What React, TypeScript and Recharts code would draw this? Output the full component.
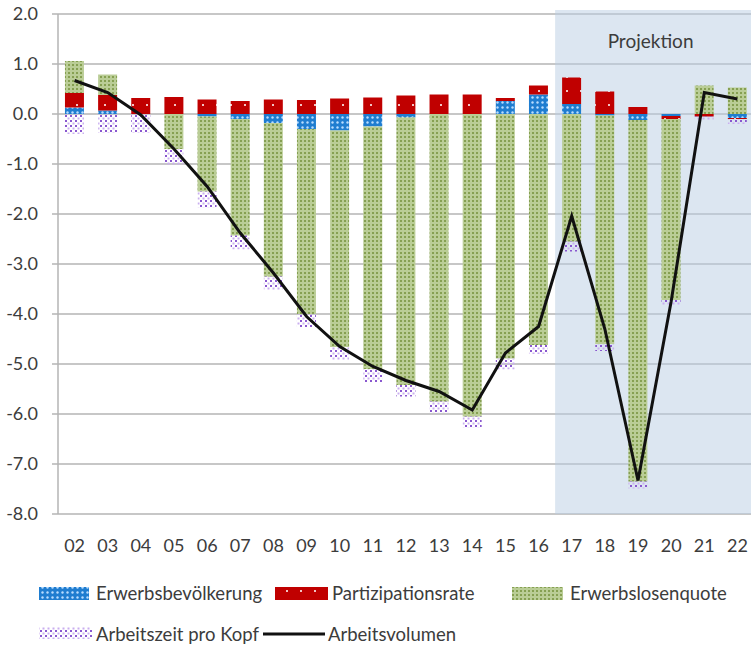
import React from "react"
import { ComposedChart, Bar, Line, XAxis, YAxis, CartesianGrid, ReferenceArea } from "recharts"

const years = ["02", "03", "04", "05", "06", "07", "08", "09", "10", "11", "12", "13", "14", "15", "16", "17", "18", "19", "20", "21", "22"]

// Wachstumsbeiträge in Prozentpunkten
const erwerbsbevoelkerung = [0.13, 0.07, 0, 0, -0.05, -0.1, -0.18, -0.3, -0.33, -0.25, -0.07, 0, 0, 0.26, 0.39, 0.2, -0.03, -0.12, -0.04, 0, -0.08]
const partizipationsrate = [0.29, 0.31, 0.32, 0.34, 0.29, 0.26, 0.29, 0.28, 0.31, 0.33, 0.37, 0.39, 0.39, 0.06, 0.18, 0.53, 0.45, 0.14, -0.06, -0.05, -0.02]
const erwerbslosenquote = [0.64, 0.41, 0, -0.7, -1.5, -2.33, -3.07, -3.7, -4.33, -4.85, -5.35, -5.75, -6.05, -4.89, -4.62, -2.55, -4.57, -7.23, -3.62, 0.57, 0.53]
const arbeitszeit = [-0.4, -0.38, -0.38, -0.32, -0.32, -0.28, -0.27, -0.26, -0.26, -0.26, -0.23, -0.22, -0.22, -0.22, -0.18, -0.2, -0.14, -0.14, -0.1, -0.07, -0.1]
const arbeitsvolumen = [0.67, 0.43, -0.02, -0.7, -1.45, -2.38, -3.18, -4.05, -4.65, -5.05, -5.33, -5.55, -5.92, -4.78, -4.25, -2.04, -4.3, -7.33, -3.75, 0.43, 0.3]

const yTicks = [2, 1, 0, -1, -2, -3, -4, -5, -6, -7, -8]

const data = years.map((year, i) => ({
  year,
  erwerbsbevoelkerung: erwerbsbevoelkerung[i],
  partizipationsrate: partizipationsrate[i],
  erwerbslosenquote: erwerbslosenquote[i],
  arbeitszeit: arbeitszeit[i],
  arbeitsvolumen: arbeitsvolumen[i],
}))

const font = "Lato, 'Liberation Sans', sans-serif"
const textColor = "#3c3c3c"
const gridColor = "#b4b4b4"

function Patterns() {
  return (
    <defs>
      <pattern id="pGreen" width="4" height="4" patternUnits="userSpaceOnUse">
        <rect width="4" height="4" fill="#bacd96" />
        <rect width="2" height="2" fill="#86a052" />
      </pattern>
      <pattern id="pBlue" width="5" height="5" patternUnits="userSpaceOnUse">
        <rect width="5" height="5" fill="#1f7dd0" />
        <circle cx="2.5" cy="2.5" r="1.2" fill="#b8dcff" />
      </pattern>
      <pattern id="pRed" width="14" height="14" patternUnits="userSpaceOnUse">
        <rect width="14" height="14" fill="#c00000" />
        <rect x="6" y="6" width="2" height="2" fill="#f2c4c4" />
      </pattern>
      <pattern id="pPurple" width="5" height="5" patternUnits="userSpaceOnUse">
        <rect width="2" height="2" fill="#8a58cf" />
        <rect x="2.5" y="2.5" width="2" height="2" fill="#c9aef0" />
      </pattern>
    </defs>
  )
}

function LegendBox() {
  return (
    <svg width={751} height={75} style={{ position: "absolute", left: 0, top: 570 }}>
      <g fontFamily={font} fontSize={18.5} fill={textColor}>
        <rect x={39} y={17} width={50} height={13} fill="url(#pBlue)" />
        <text x={96} y={30}>Erwerbsbevölkerung</text>
        <rect x={275} y={17} width={53} height={13} fill="url(#pRed)" />
        <text x={332} y={30}>Partizipationsrate</text>
        <rect x={512} y={17} width={51} height={13} fill="url(#pGreen)" />
        <text x={570} y={30}>Erwerbslosenquote</text>
        <rect x={39} y={57} width={53} height={12} fill="url(#pPurple)" />
        <text x={96} y={71}>Arbeitszeit pro Kopf</text>
        <line x1={263} x2={325} y1={64} y2={64} stroke="#111" strokeWidth={3} />
        <text x={328} y={71}>Arbeitsvolumen</text>
      </g>
    </svg>
  )
}

export default function App() {
  return (
    <div style={{ position: "absolute", left: 0, top: 0, width: 751, height: 645, overflow: "hidden", background: "#fff" }}>
      <ComposedChart
        width={754}
        height={560}
        data={data}
        stackOffset="sign"
        barCategoryGap="21%"
        margin={{ top: 14, right: 0, left: 0, bottom: 0 }}
      >
        <Patterns />
        <CartesianGrid vertical={false} stroke={gridColor} strokeWidth={1.5} />
        <ReferenceArea
          x1="17"
          x2="22"
          y1={-8}
          y2={2.08}
          ifOverflow="visible"
          fill="#b9cde3"
          fillOpacity={0.5}
          stroke="none"
          label={{ value: "Projektion", position: "insideTop", offset: 25, fill: textColor, fontSize: 19, fontFamily: font, dx: -4 }}
        />
        <XAxis
          dataKey="year"
          height={46}
          axisLine={false}
          tickLine={false}
          tickSize={0}
          tickMargin={25}
          interval={0}
          tick={{ fill: textColor, fontSize: 18, fontFamily: font }}
        />
        <YAxis
          width={58}
          domain={[-8, 2]}
          ticks={yTicks}
          interval={0}
          tickFormatter={(v: number) => v.toFixed(1)}
          axisLine={{ stroke: gridColor, strokeWidth: 1.5 }}
          tickLine={{ stroke: gridColor, strokeWidth: 1.5 }}
          tickSize={6}
          tickMargin={14}
          tick={{ fill: textColor, fontSize: 18, fontFamily: font }}
        />
        <Bar dataKey="erwerbsbevoelkerung" stackId="a" fill="url(#pBlue)" isAnimationActive={false} />
        <Bar dataKey="partizipationsrate" stackId="a" fill="url(#pRed)" isAnimationActive={false} />
        <Bar dataKey="erwerbslosenquote" stackId="a" fill="url(#pGreen)" isAnimationActive={false} />
        <Bar dataKey="arbeitszeit" stackId="a" fill="url(#pPurple)" isAnimationActive={false} />
        <Line
          type="linear"
          dataKey="arbeitsvolumen"
          stroke="#111"
          strokeWidth={3}
          dot={false}
          activeDot={false}
          isAnimationActive={false}
        />
      </ComposedChart>
      <LegendBox />
    </div>
  )
}
